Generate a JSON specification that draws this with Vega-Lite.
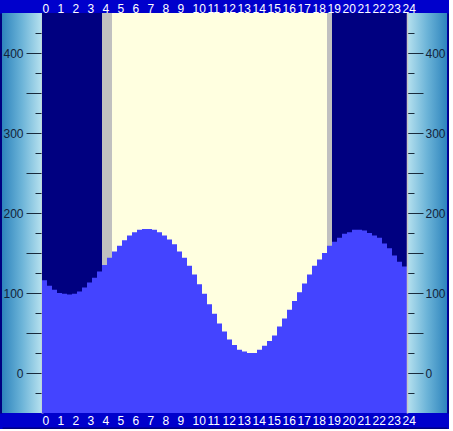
{
  "$schema": "https://vega.github.io/schema/vega-lite/v6.json",
  "background": "#0000cc",
  "padding": {"left": 0, "right": 0, "top": 2, "bottom": 0},
  "spacing": 0,
  "bounds": "flush",
  "config": {"view": {"stroke": null}},
  "hconcat": [
    {
      "width": 40,
      "height": 400,
      "data": {"values": [{}]},
      "layer": [
        {
          "mark": {
            "type": "rect",
            "fill": {"gradient": "linear", "stops": [
              {"offset": 0, "color": "#2e84bd"},
              {"offset": 0.5, "color": "#6cb4d8"},
              {"offset": 1, "color": "#b8e2ef"}
            ]}
          },
          "encoding": {
            "x": {"value": 0},
            "x2": {"value": "width"},
            "y": {
              "datum": 450,
              "type": "quantitative",
              "scale": {"domain": [-50, 450], "nice": false, "zero": false},
              "axis": {
                "orient": "left",
                "offset": -40,
                "values": [-25, 0, 25, 50, 75, 100, 125, 150, 175, 200, 225, 250, 275, 300, 325, 350, 375, 400, 425],
                "labelExpr": "datum.value % 100 === 0 ? datum.label : ''",
                "tickSize": {"condition": {"test": "datum.value % 50 === 0", "value": 16}, "value": 7},
                "tickColor": "#1a2b3c",
                "labelColor": "#13233a",
                "labelFont": "Liberation Sans",
                "labelFontSize": 12,
                "labelPadding": 3,
                "domainColor": "#c8c8c8",
                "domainWidth": 2,
                "grid": false,
                "title": null,
                "zindex": 1
              }
            },
            "y2": {"datum": -50}
          }
        },
        {
          "mark": {"type": "rect", "opacity": 0},
          "encoding": {
            "x": {
              "datum": 0,
              "type": "quantitative",
              "scale": {"domain": [0, 1], "nice": false, "zero": false},
              "axis": {"orient": "bottom", "offset": 16, "domainWidth": 4, "domainColor": "#000080", "labels": false, "ticks": false, "grid": false, "title": null}
            },
            "x2": {"datum": 1},
            "y": {
              "datum": 450,
              "type": "quantitative",
              "axis": {"orient": "left", "offset": 2, "domainWidth": 4, "domainColor": "#000080", "labels": false, "ticks": false, "grid": false, "title": null}
            },
            "y2": {"datum": -50}
          }
        }
      ],
      "resolve": {"axis": {"y": "independent"}}
    },
    {
      "width": 365,
      "height": 400,
      "layer": [
        {
          "data": {"values": [
            {"start": 0, "end": 240, "phase": "night"},
            {"start": 240, "end": 280, "phase": "twilight"},
            {"start": 280, "end": 1140, "phase": "day"},
            {"start": 1140, "end": 1160, "phase": "twilight"},
            {"start": 1160, "end": 1460, "phase": "night"}
          ]},
          "mark": {"type": "rect"},
          "encoding": {
            "x": {
              "field": "start",
              "type": "quantitative",
              "scale": {"domain": [0, 1460], "nice": false, "zero": false},
              "axis": null
            },
            "x2": {"field": "end"},
            "y": {"value": 0},
            "y2": {"value": "height"},
            "color": {
              "field": "phase",
              "type": "nominal",
              "scale": {"domain": ["night", "twilight", "day"], "range": ["#000080", "#c0c0c0", "#ffffe0"]},
              "legend": null
            }
          }
        },
        {
          "data": {"name": "tide", "values": [
            {"minute": 0, "height": 116}, {"minute": 20, "height": 109}, {"minute": 40, "height": 104},
            {"minute": 60, "height": 100}, {"minute": 80, "height": 99}, {"minute": 100, "height": 98},
            {"minute": 120, "height": 99}, {"minute": 140, "height": 102}, {"minute": 160, "height": 107},
            {"minute": 180, "height": 113}, {"minute": 200, "height": 119}, {"minute": 220, "height": 127},
            {"minute": 240, "height": 135}, {"minute": 260, "height": 144}, {"minute": 280, "height": 152},
            {"minute": 300, "height": 159}, {"minute": 320, "height": 166}, {"minute": 340, "height": 172},
            {"minute": 360, "height": 176}, {"minute": 380, "height": 179}, {"minute": 400, "height": 180},
            {"minute": 420, "height": 180}, {"minute": 440, "height": 179}, {"minute": 460, "height": 176},
            {"minute": 480, "height": 172}, {"minute": 500, "height": 167}, {"minute": 520, "height": 161},
            {"minute": 540, "height": 152}, {"minute": 560, "height": 144}, {"minute": 580, "height": 134},
            {"minute": 600, "height": 123}, {"minute": 620, "height": 111}, {"minute": 640, "height": 99},
            {"minute": 660, "height": 86}, {"minute": 680, "height": 74}, {"minute": 700, "height": 62},
            {"minute": 720, "height": 52}, {"minute": 740, "height": 42}, {"minute": 760, "height": 35},
            {"minute": 780, "height": 29}, {"minute": 800, "height": 27}, {"minute": 820, "height": 25},
            {"minute": 840, "height": 25}, {"minute": 860, "height": 29}, {"minute": 880, "height": 34},
            {"minute": 900, "height": 40}, {"minute": 920, "height": 47}, {"minute": 940, "height": 58},
            {"minute": 960, "height": 68}, {"minute": 980, "height": 79}, {"minute": 1000, "height": 90},
            {"minute": 1020, "height": 101}, {"minute": 1040, "height": 112}, {"minute": 1060, "height": 123},
            {"minute": 1080, "height": 134}, {"minute": 1100, "height": 142}, {"minute": 1120, "height": 150},
            {"minute": 1140, "height": 159}, {"minute": 1160, "height": 164}, {"minute": 1180, "height": 169},
            {"minute": 1200, "height": 174}, {"minute": 1220, "height": 176}, {"minute": 1240, "height": 179},
            {"minute": 1260, "height": 179}, {"minute": 1280, "height": 178}, {"minute": 1300, "height": 175},
            {"minute": 1320, "height": 172}, {"minute": 1340, "height": 169}, {"minute": 1360, "height": 162},
            {"minute": 1380, "height": 156}, {"minute": 1400, "height": 147}, {"minute": 1420, "height": 139},
            {"minute": 1440, "height": 133}, {"minute": 1460, "height": 133}
          ]},
          "mark": {"type": "area", "interpolate": "step-after", "orient": "vertical", "color": "#4444ff"},
          "encoding": {
            "x": {
              "field": "minute",
              "type": "quantitative",
              "scale": {"domain": [0, 1460], "nice": false, "zero": false},
              "axis": {"orient": "bottom", "offset": 16, "domainWidth": 4, "domainColor": "#000080", "labels": false, "ticks": false, "grid": false, "title": null, "zindex": 0}
            },
            "y": {
              "field": "height",
              "type": "quantitative",
              "scale": {"domain": [-50, 450], "nice": false, "zero": false},
              "axis": null
            },
            "y2": {"datum": -50}
          }
        },
        {
          "data": {"name": "tide"},
          "mark": {"type": "point", "opacity": 0},
          "encoding": {
            "x": {
              "field": "minute",
              "type": "quantitative",
              "scale": {"domain": [0, 1460], "nice": false, "zero": false},
              "axis": {
                "orient": "top",
                "domain": false,
                "values": [0, 60, 120, 180, 240, 300, 360, 420, 480, 540, 600, 660, 720, 780, 840, 900, 960, 1020, 1080, 1140, 1200, 1260, 1320, 1380, 1440],
                "labelExpr": "'' + datum.value / 60",
                "labelAlign": "left",
                "labelBaseline": "alphabetic",
                "labelColor": "white",
                "labelFont": "Liberation Sans",
                "labelFontSize": 12,
                "labelPadding": 1,
                "labelFlush": false,
                "labelOverlap": false,
                "ticks": false,
                "tickSize": 0,
                "grid": false,
                "title": null,
                "zindex": 1
              }
            },
            "y": {
              "field": "height",
              "type": "quantitative",
              "scale": {"domain": [-50, 450], "nice": false, "zero": false},
              "axis": null
            }
          }
        },
        {
          "data": {"name": "tide"},
          "mark": {"type": "point", "opacity": 0},
          "encoding": {
            "x": {
              "field": "minute",
              "type": "quantitative",
              "scale": {"domain": [0, 1460], "nice": false, "zero": false},
              "axis": {
                "orient": "bottom",
                "domain": false,
                "values": [0, 60, 120, 180, 240, 300, 360, 420, 480, 540, 600, 660, 720, 780, 840, 900, 960, 1020, 1080, 1140, 1200, 1260, 1320, 1380, 1440],
                "labelExpr": "'' + datum.value / 60",
                "labelAlign": "left",
                "labelBaseline": "alphabetic",
                "labelColor": "white",
                "labelFont": "Liberation Sans",
                "labelFontSize": 12,
                "labelPadding": 11.5,
                "labelFlush": false,
                "labelOverlap": false,
                "ticks": false,
                "tickSize": 0,
                "grid": false,
                "title": null,
                "zindex": 1
              }
            },
            "y": {
              "field": "height",
              "type": "quantitative",
              "scale": {"domain": [-50, 450], "nice": false, "zero": false},
              "axis": null
            }
          }
        }
      ],
      "resolve": {"scale": {"x": "independent"}, "axis": {"x": "independent"}}
    },
    {
      "width": 40,
      "height": 400,
      "data": {"values": [{}]},
      "layer": [
        {
          "mark": {
            "type": "rect",
            "fill": {"gradient": "linear", "stops": [
              {"offset": 0, "color": "#b8e2ef"},
              {"offset": 0.5, "color": "#6cb4d8"},
              {"offset": 1, "color": "#2e84bd"}
            ]}
          },
          "encoding": {
            "x": {"value": 0},
            "x2": {"value": "width"},
            "y": {
              "datum": 450,
              "type": "quantitative",
              "scale": {"domain": [-50, 450], "nice": false, "zero": false},
              "axis": {
                "orient": "right",
                "offset": -40,
                "values": [-25, 0, 25, 50, 75, 100, 125, 150, 175, 200, 225, 250, 275, 300, 325, 350, 375, 400, 425],
                "labelExpr": "datum.value % 100 === 0 ? datum.label : ''",
                "tickSize": {"condition": {"test": "datum.value % 50 === 0", "value": 16}, "value": 7},
                "tickColor": "#1a2b3c",
                "labelColor": "#13233a",
                "labelFont": "Liberation Sans",
                "labelFontSize": 12,
                "labelPadding": 2,
                "domainColor": "#c8c8c8",
                "domainWidth": 1.5,
                "grid": false,
                "title": null,
                "zindex": 1
              }
            },
            "y2": {"datum": -50}
          }
        },
        {
          "mark": {"type": "rect", "opacity": 0},
          "encoding": {
            "x": {
              "datum": 0,
              "type": "quantitative",
              "scale": {"domain": [0, 1], "nice": false, "zero": false},
              "axis": {"orient": "bottom", "offset": 16, "domainWidth": 4, "domainColor": "#000080", "labels": false, "ticks": false, "grid": false, "title": null}
            },
            "x2": {"datum": 1},
            "y": {
              "datum": 450,
              "type": "quantitative",
              "axis": {"orient": "right", "offset": 2, "domainWidth": 4, "domainColor": "#000080", "labels": false, "ticks": false, "grid": false, "title": null}
            },
            "y2": {"datum": -50}
          }
        }
      ],
      "resolve": {"axis": {"y": "independent"}}
    }
  ]
}
